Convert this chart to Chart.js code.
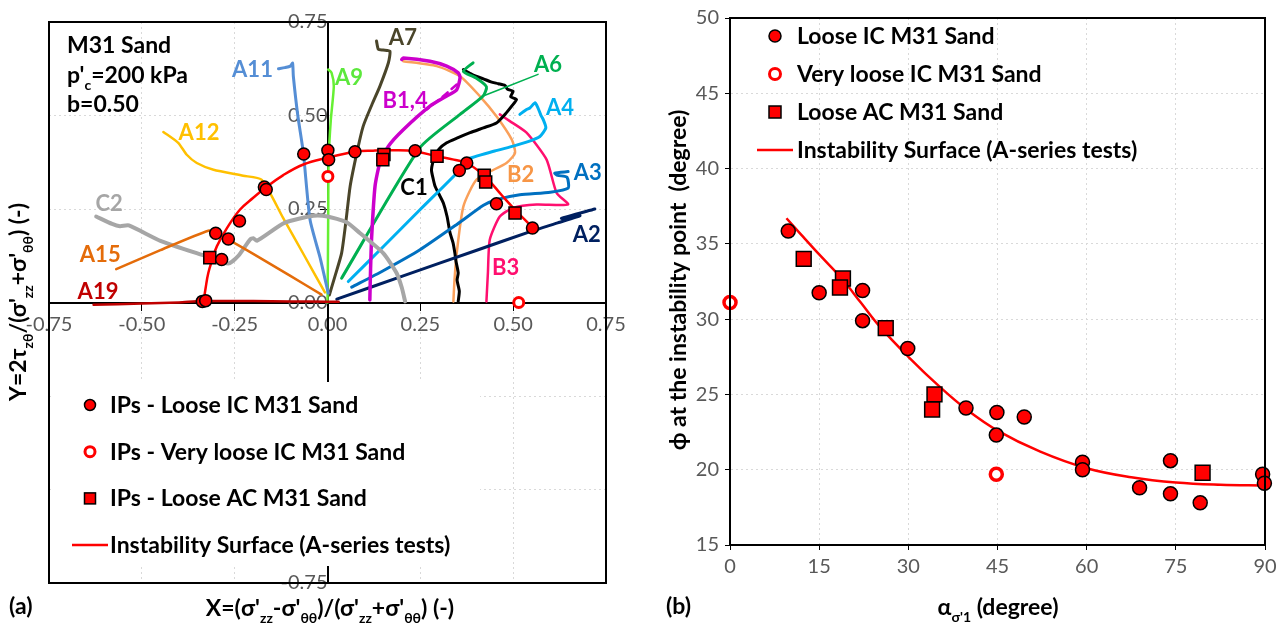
<!DOCTYPE html>
<html>
<head>
<meta charset="utf-8">
<script src="https://cdn.jsdelivr.net/npm/chart.js@4.4.1/dist/chart.umd.min.js"></script>
<style>
  body { margin: 0; background: #fff; }
  #boxA { position: absolute; left: 0; top: 0; width: 640px; height: 626px; }
  #boxB { position: absolute; left: 640px; top: 0; width: 646px; height: 626px; }
</style>
</head>
<body>
<div id="boxA"><canvas id="chartA" width="640" height="626"></canvas></div>
<div id="boxB"><canvas id="chartB" width="646" height="626"></canvas></div>
<script>
'use strict';

const FONT = 'Lato, "Open Sans", sans-serif';

// ---------- panel (a): stress paths in the X-Y plane ----------
const surfX = [-0.334, -0.328, -0.321, -0.31, -0.298, -0.27, -0.236, -0.2, -0.168, -0.12, -0.065, 0, 0.074, 0.123, 0.18, 0.236, 0.294, 0.34, 0.375, 0.424, 0.47, 0.505, 0.554];
const surfY = [0, 0.04, 0.079, 0.115, 0.15, 0.2, 0.248, 0.28, 0.306, 0.34, 0.369, 0.387, 0.403, 0.406, 0.407, 0.404, 0.391, 0.382, 0.373, 0.337, 0.286, 0.248, 0.199];

const ipLooseX = [-0.337, -0.328, -0.301, -0.267, -0.285, -0.237, -0.170, -0.165, -0.064, 0.001, 0.003, 0.074, 0.236, 0.375, 0.355, 0.455, 0.552];
const ipLooseY = [0.003, 0.005, 0.185, 0.170, 0.115, 0.218, 0.309, 0.302, 0.397, 0.407, 0.382, 0.403, 0.406, 0.373, 0.353, 0.264, 0.199];
const ipVeryX = [0.001, 0.515];
const ipVeryY = [0.337, 0.0];
const ipAcX = [-0.317, 0.152, 0.149, 0.295, 0.422, 0.426, 0.505];
const ipAcY = [0.120, 0.396, 0.382, 0.391, 0.340, 0.322, 0.239];

const a19X = [-0.63, -0.5, -0.4, -0.34, -0.2, -0.1, 0, 0.03];
const a19Y = [-0.006, -0.003, 0.0, 0.004, 0.004, 0.003, 0.002, 0.002];
const a15X = [-0.016, -0.1, -0.2, -0.3, -0.321, -0.45, -0.569];
const a15Y = [0.021, 0.071, 0.13, 0.186, 0.192, 0.14, 0.089];
const c2X = [-0.623, -0.58, -0.559, -0.535, -0.45, -0.325, -0.267, -0.24, -0.209, -0.2, -0.19, -0.116, -0.038, 0, 0.05, 0.087, 0.15, 0.186, 0.2, 0.209];
const c2Y = [0.230, 0.21, 0.204, 0.206, 0.165, 0.123, 0.104, 0.125, 0.168, 0.172, 0.165, 0.213, 0.232, 0.230, 0.215, 0.186, 0.132, 0.079, 0.04, 0.003];
const a12X = [-0.007, -0.06, -0.12, -0.177, -0.227, -0.307, -0.352, -0.379, -0.402, -0.442];
const a12Y = [0.027, 0.121, 0.227, 0.328, 0.339, 0.355, 0.373, 0.395, 0.427, 0.456];
const a11X = [0.002, -0.02, -0.047, -0.065, -0.08, -0.092, -0.094, -0.1, -0.115, -0.132];
const a11Y = [0.025, 0.12, 0.221, 0.40, 0.5, 0.605, 0.64, 0.632, 0.628, 0.625];
const a9X = [0, 0.001, 0.002, 0.003, 0.009, 0.017, 0.011, 0.002];
const a9Y = [0.0, 0.1, 0.25, 0.382, 0.489, 0.578, 0.614, 0.623];
const a7X = [0.005, 0.02, 0.038, 0.05, 0.061, 0.079, 0.096, 0.12, 0.141, 0.164, 0.168, 0.15, 0.137, 0.132];
const a7Y = [0.02, 0.07, 0.132, 0.22, 0.311, 0.4, 0.471, 0.53, 0.578, 0.641, 0.672, 0.675, 0.677, 0.699];
const b1X = [0.114, 0.116, 0.119, 0.128, 0.141, 0.164, 0.204, 0.276, 0.321, 0.348, 0.357, 0.352, 0.321, 0.276, 0.204, 0.2];
const b1Y = [0.007, 0.09, 0.177, 0.311, 0.373, 0.418, 0.462, 0.525, 0.552, 0.569, 0.601, 0.614, 0.632, 0.645, 0.654, 0.65];
const b4X = [0.348, 0.31, 0.267];
const b4Y = [0.583, 0.55, 0.516];
const a6X = [0.038, 0.249, 0.357, 0.419, 0.428, 0.40, 0.366, 0.392];
const a6Y = [0.065, 0.414, 0.503, 0.552, 0.577, 0.60, 0.618, 0.641];
const a6LeadX = [0.419, 0.567];
const a6LeadY = [0.552, 0.61];
const a4X = [0.056, 0.15, 0.249, 0.357, 0.375, 0.45, 0.5, 0.54, 0.572, 0.588, 0.581, 0.575, 0.567, 0.559, 0.545, 0.536, 0.518];
const a4Y = [0.056, 0.149, 0.248, 0.355, 0.382, 0.405, 0.418, 0.43, 0.444, 0.467, 0.489, 0.5, 0.52, 0.534, 0.52, 0.516, 0.503];
const a3X = [0.065, 0.15, 0.249, 0.35, 0.42, 0.455, 0.518, 0.6, 0.648, 0.645, 0.62, 0.612, 0.648];
const a3Y = [0.041, 0.085, 0.141, 0.21, 0.26, 0.275, 0.288, 0.295, 0.306, 0.335, 0.34, 0.346, 0.35];
const a2X = [0.025, 0.2, 0.4, 0.55, 0.62, 0.68, 0.63, 0.72];
const a2Y = [0.009, 0.07, 0.139, 0.191, 0.213, 0.232, 0.225, 0.25];
const c1X = [0.352, 0.355, 0.349, 0.352, 0.346, 0.343, 0.338, 0.33, 0.322, 0.312, 0.3, 0.29, 0.285, 0.28, 0.289, 0.3, 0.321, 0.35, 0.384, 0.42, 0.455, 0.478, 0.496, 0.509, 0.493, 0.5, 0.485, 0.478, 0.46, 0.44, 0.42, 0.40, 0.385, 0.366];
const c1Y = [0.003, 0.03, 0.06, 0.079, 0.11, 0.132, 0.16, 0.186, 0.23, 0.266, 0.29, 0.31, 0.329, 0.355, 0.391, 0.41, 0.427, 0.44, 0.454, 0.467, 0.48, 0.503, 0.525, 0.543, 0.55, 0.565, 0.57, 0.58, 0.585, 0.59, 0.598, 0.605, 0.612, 0.623];
const b2X = [0.339, 0.342, 0.348, 0.366, 0.402, 0.482, 0.505, 0.496, 0.455, 0.41, 0.357, 0.294, 0.204];
const b2Y = [0.003, 0.06, 0.132, 0.257, 0.329, 0.373, 0.4, 0.436, 0.498, 0.552, 0.605, 0.632, 0.645];
const b3X = [0.428, 0.432, 0.437, 0.464, 0.5, 0.563, 0.648, 0.617, 0.59, 0.536, 0.491, 0.464];
const b3Y = [0.003, 0.08, 0.168, 0.23, 0.253, 0.262, 0.262, 0.293, 0.382, 0.454, 0.485, 0.503];

// ---------- panel (b): friction angle vs principal stress direction ----------
const looseAlpha = [9.8, 15.0, 22.3, 22.3, 29.9, 39.7, 44.9, 44.8, 49.5, 59.3, 59.3, 68.9, 74.1, 74.1, 79.1, 89.6, 89.9];
const loosePhi = [35.85, 31.75, 31.9, 29.9, 28.05, 24.1, 23.8, 22.3, 23.5, 20.5, 20.0, 18.8, 20.6, 18.4, 17.8, 19.7, 19.1];
const veryAlpha = [0, 44.8];
const veryPhi = [31.1, 19.7];
const acAlpha = [12.4, 19.0, 18.5, 26.2, 34.4, 34.0, 79.5];
const acPhi = [34.0, 32.7, 32.1, 29.4, 25.0, 24.0, 19.8];
const fitAlpha = [9.5, 12, 15, 18.8, 22, 25.2, 30, 35.3, 39.8, 45, 52.2, 60, 67.5, 75, 82.5, 90];
const fitPhi = [36.7, 35.6, 34.3, 32.7, 31.1, 29.5, 27.5, 25.5, 24.0, 22.6, 21.2, 20.1, 19.5, 19.15, 19.0, 18.95];

const xTicksA = [-0.75, -0.5, -0.25, 0, 0.25, 0.5, 0.75];
const yTicksB = [15, 20, 25, 30, 35, 40, 45, 50];
const xTicksB = [0, 15, 30, 45, 60, 75, 90];

function pts(xs, ys) {
  return xs.map((x, i) => ({ x: x, y: ys[i] }));
}

function pathSet(name, xs, ys, color, width, dash) {
  return {
    label: name, data: pts(xs, ys), showLine: true, borderColor: color,
    backgroundColor: color, borderWidth: width || 2.5, pointRadius: 0,
    tension: 0.2, borderDash: dash || [], borderCapStyle: 'round'
  };
}

// text with subscripts: parts = [[text, isSub], ...]
function richText(ctx, parts, x, y, size, align, rot, color) {
  ctx.save();
  ctx.translate(x, y);
  if (rot) ctx.rotate(rot);
  ctx.fillStyle = color || '#000';
  ctx.textBaseline = 'alphabetic';
  const big = 'bold ' + size + 'px ' + FONT;
  const small = 'bold ' + Math.round(size * 0.62) + 'px ' + FONT;
  let w = 0;
  parts.forEach(p => { ctx.font = p[1] ? small : big; w += ctx.measureText(p[0]).width; });
  let cx = align === 'left' ? 0 : -w / 2;
  parts.forEach(p => {
    ctx.font = p[1] ? small : big;
    ctx.fillText(p[0], cx, p[1] ? size * 0.3 : 0);
    cx += ctx.measureText(p[0]).width;
  });
  ctx.restore();
}

function marker(ctx, kind, x, y, r) {
  ctx.save();
  ctx.lineWidth = 1.5;
  ctx.strokeStyle = '#000';
  ctx.fillStyle = '#ff0000';
  if (kind === 'circle') {
    ctx.beginPath(); ctx.arc(x, y, r, 0, Math.PI * 2); ctx.fill(); ctx.stroke();
  } else if (kind === 'open') {
    ctx.strokeStyle = '#ff0000'; ctx.lineWidth = 3; ctx.fillStyle = '#fff';
    ctx.beginPath(); ctx.arc(x, y, r - 0.5, 0, Math.PI * 2); ctx.fill(); ctx.stroke();
  } else if (kind === 'rect') {
    ctx.fillRect(x - r, y - r, 2 * r, 2 * r); ctx.strokeRect(x - r, y - r, 2 * r, 2 * r);
  } else {
    ctx.strokeStyle = '#ff0000'; ctx.lineWidth = 2.5;
    ctx.beginPath(); ctx.moveTo(x - 18, y); ctx.lineTo(x + 18, y); ctx.stroke();
  }
  ctx.restore();
}

const frame = {
  id: 'frame',
  afterDraw(chart) {
    const a = chart.chartArea, ctx = chart.ctx;
    ctx.save();
    ctx.strokeStyle = '#000';
    ctx.lineWidth = 2;
    ctx.strokeRect(a.left, a.top, a.right - a.left, a.bottom - a.top);
    ctx.restore();
  }
};

// ---------- chart (a) ----------
const pathLabels = [
  ['A11', -0.202, 0.623, '#558ED5'], ['A9', 0.058, 0.601, '#5CE83C'], ['A7', 0.203, 0.708, '#4A452A'],
  ['B1,4', 0.209, 0.538, '#CC00CC'], ['A6', 0.594, 0.636, '#00B050'], ['A4', 0.626, 0.52, '#00B0F0'],
  ['A3', 0.701, 0.346, '#0070C0'], ['A2', 0.698, 0.181, '#002060'], ['B2', 0.52, 0.342, '#F79646'],
  ['B3', 0.48, 0.093, '#FF0F6F'], ['C1', 0.233, 0.306, '#000000'], ['C2', -0.588, 0.264, '#A6A6A6'],
  ['A12', -0.346, 0.454, '#FFC000'], ['A15', -0.612, 0.128, '#E46C0A'], ['A19', -0.618, 0.029, '#C00000']
];

const decorA = {
  id: 'decorA',
  afterDraw(chart) {
    const ctx = chart.ctx, sx = chart.scales.x, sy = chart.scales.y;
    ctx.save();
    ctx.textAlign = 'center';
    ctx.textBaseline = 'middle';
    ctx.font = 'bold 22px ' + FONT;
    pathLabels.forEach(l => {
      ctx.fillStyle = l[3];
      ctx.fillText(l[0], sx.getPixelForValue(l[1]), sy.getPixelForValue(l[2]));
    });
    ctx.restore();

    // info text
    richText(ctx, [['M31 Sand', false]], 67, 53, 23, 'left');
    richText(ctx, [["p'", false], ['c', true], ['=200 kPa', false]], 67, 83, 23, 'left');
    richText(ctx, [['b=0.50', false]], 67, 112, 23, 'left');

    // legend
    ctx.save();
    ctx.fillStyle = '#fff';
    ctx.fillRect(54, 382, 426, 184);
    ctx.restore();
    const items = [['circle', 'IPs - Loose IC M31 Sand'], ['open', 'IPs - Very loose IC M31 Sand'],
      ['rect', 'IPs - Loose AC M31 Sand'], ['line', 'Instability Surface (A-series tests)']];
    items.forEach((it, i) => {
      const y = 405 + i * 46.7;
      marker(ctx, it[0], 90, y, 5.5);
      richText(ctx, [[it[1], false]], 110, y + 8, 23, 'left');
    });

    // axis titles and panel tag
    richText(ctx, [['X=(σ\'', false], ['zz', true], ['-σ\'', false], ['θθ', true], [')/(σ\'', false], ['zz', true],
      ['+σ\'', false], ['θθ', true], [') (-)', false]], 330, 616, 23, 'center');
    richText(ctx, [['Y=2τ', false], ['zθ', true], ['/(σ\'', false], ['zz', true], ['+σ\'', false], ['θθ', true],
      [') (-)', false]], 26, 302, 23, 'center', -Math.PI / 2);
    richText(ctx, [['(a)', false]], 9, 614, 23, 'left');
  }
};

const tickFont = { family: FONT, size: 20 };

new Chart(document.getElementById('chartA'), {
  type: 'scatter',
  data: {
    datasets: [
      { label: 'IPs - Loose IC M31 Sand', data: pts(ipLooseX, ipLooseY), pointStyle: 'circle', pointRadius: 6,
        backgroundColor: '#ff0000', borderColor: '#000', borderWidth: 1.5 },
      { label: 'IPs - Very loose IC M31 Sand', data: pts(ipVeryX, ipVeryY), pointStyle: 'circle', pointRadius: 5,
        backgroundColor: '#fff', borderColor: '#ff0000', borderWidth: 3 },
      { label: 'IPs - Loose AC M31 Sand', data: pts(ipAcX, ipAcY), pointStyle: 'rect', pointRadius: 8.5,
        backgroundColor: '#ff0000', borderColor: '#000', borderWidth: 1.5 },
      Object.assign(pathSet('Instability Surface (A-series tests)', surfX, surfY, '#ff0000', 2.5), { tension: 0.4 }),
      pathSet('A19', a19X, a19Y, '#C00000'),
      pathSet('A15', a15X, a15Y, '#E46C0A'),
      pathSet('C2', c2X, c2Y, '#A6A6A6', 4),
      pathSet('A12', a12X, a12Y, '#FFC000'),
      pathSet('A11', a11X, a11Y, '#558ED5', 3),
      pathSet('A9', a9X, a9Y, '#66F033'),
      pathSet('A7', a7X, a7Y, '#4A452A', 3),
      pathSet('B1', b1X, b1Y, '#CC00CC', 3.5),
      pathSet('B4', b4X, b4Y, '#CC00CC', 2.5, [7, 5]),
      pathSet('A6', a6X, a6Y, '#00B050', 3),
      pathSet('A6 lead', a6LeadX, a6LeadY, '#00B050', 1.5),
      pathSet('A4', a4X, a4Y, '#00B0F0', 3),
      pathSet('A3', a3X, a3Y, '#0070C0', 3),
      pathSet('A2', a2X, a2Y, '#002060', 3),
      pathSet('C1', c1X, c1Y, '#000000', 3),
      pathSet('B2', b2X, b2Y, '#FAA05A', 2.5),
      pathSet('B3', b3X, b3Y, '#FF0F6F', 2.5)
    ]
  },
  options: {
    responsive: false,
    animation: false,
    layout: { padding: { left: 49, top: 22, right: 34, bottom: 43 } },
    plugins: { legend: { display: false }, tooltip: { enabled: false } },
    scales: {
      x: {
        type: 'linear', min: -0.75, max: 0.75, position: { y: 0 },
        afterBuildTicks: s => { s.ticks = xTicksA.map(v => ({ value: v })); },
        ticks: { callback: v => v.toFixed(2), color: '#595959', font: tickFont, padding: 3, maxRotation: 0, autoSkip: false },
        grid: { color: '#d9d9d9', tickColor: '#000', tickLength: 7, lineWidth: 1 },
        border: { color: '#000', width: 2, dash: [2, 3] }
      },
      y: {
        type: 'linear', min: -0.75, max: 0.75, position: { x: 0 },
        afterBuildTicks: s => { s.ticks = xTicksA.map(v => ({ value: v })); },
        ticks: { callback: v => v.toFixed(2), color: '#595959', font: tickFont, padding: 3, autoSkip: false },
        grid: { color: '#d9d9d9', tickColor: '#000', tickLength: 7, lineWidth: 1 },
        border: { color: '#000', width: 2, dash: [2, 3] }
      }
    }
  },
  plugins: [decorA, frame]
});

// ---------- chart (b) ----------
const decorB = {
  id: 'decorB',
  afterDraw(chart) {
    const ctx = chart.ctx;
    const items = [['circle', 'Loose IC M31 Sand'], ['open', 'Very loose IC M31 Sand'],
      ['rect', 'Loose AC M31 Sand'], ['line', 'Instability Surface (A-series tests)']];
    items.forEach((it, i) => {
      const y = 36 + i * 38;
      marker(ctx, it[0], 135, y, 6);
      richText(ctx, [[it[1], false]], 157, y + 8, 23, 'left');
    });
    richText(ctx, [['α', false], ["σ'1", true], [' (degree)', false]], 358, 615, 23, 'center');
    richText(ctx, [['ϕ at the instability point  (degree)', false]], 46, 280, 23, 'center', -Math.PI / 2);
    richText(ctx, [['(b)', false]], 26, 614, 23, 'left');
  }
};

new Chart(document.getElementById('chartB'), {
  type: 'scatter',
  data: {
    datasets: [
      { label: 'Loose IC M31 Sand', data: pts(looseAlpha, loosePhi), pointStyle: 'circle', pointRadius: 7,
        backgroundColor: '#ff0000', borderColor: '#000', borderWidth: 1.5 },
      { label: 'Very loose IC M31 Sand', data: pts(veryAlpha, veryPhi), pointStyle: 'circle', pointRadius: 6,
        backgroundColor: '#fff', borderColor: '#ff0000', borderWidth: 3.5 },
      { label: 'Loose AC M31 Sand', data: pts(acAlpha, acPhi), pointStyle: 'rect', pointRadius: 10.5,
        backgroundColor: '#ff0000', borderColor: '#000', borderWidth: 1.5 },
      { label: 'Instability Surface (A-series tests)', data: pts(fitAlpha, fitPhi), showLine: true,
        borderColor: '#ff0000', borderWidth: 2.5, pointRadius: 0, tension: 0.4 }
    ]
  },
  options: {
    responsive: false,
    animation: false,
    clip: false,
    layout: { padding: { left: 30, top: 12, right: 21, bottom: 41 } },
    plugins: { legend: { display: false }, tooltip: { enabled: false } },
    scales: {
      x: {
        type: 'linear', min: 0, max: 90,
        afterBuildTicks: s => { s.ticks = xTicksB.map(v => ({ value: v })); },
        afterFit: s => { s.height = 40; },
        ticks: { color: '#595959', font: tickFont, padding: 5, maxRotation: 0, autoSkip: false },
        grid: { color: '#d9d9d9', tickColor: '#000', tickLength: 5, lineWidth: 1 },
        border: { color: '#000', width: 2, dash: [2, 3] }
      },
      y: {
        type: 'linear', min: 15, max: 50,
        afterBuildTicks: s => { s.ticks = yTicksB.map(v => ({ value: v })); },
        afterFit: s => { s.width = 60; },
        ticks: { color: '#595959', font: tickFont, padding: 6, autoSkip: false },
        grid: { color: '#d9d9d9', tickColor: '#000', tickLength: 5, lineWidth: 1 },
        border: { color: '#000', width: 2, dash: [2, 3] }
      }
    }
  },
  plugins: [decorB, frame]
});
</script>
</body>
</html>
